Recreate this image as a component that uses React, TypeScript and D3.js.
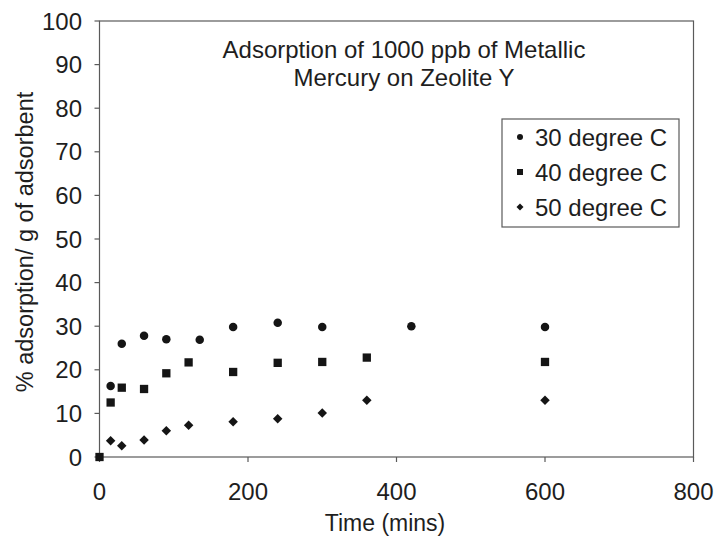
import React from "react";
import * as d3 from "d3";

const xTicks = [0, 200, 400, 600, 800];
const yTicks = [0, 10, 20, 30, 40, 50, 60, 70, 80, 90, 100];

const series30Times = [15, 30, 60, 90, 135, 180, 240, 300, 420, 600];
const series30Values = [16.3, 26.0, 27.8, 27.0, 26.9, 29.8, 30.8, 29.8, 30.0, 29.8];

const series40Times = [0, 15, 30, 60, 90, 120, 180, 240, 300, 360, 600];
const series40Values = [0, 12.5, 15.9, 15.6, 19.2, 21.7, 19.5, 21.6, 21.8, 22.8, 21.8];

const series50Times = [15, 30, 60, 90, 120, 180, 240, 300, 360, 600];
const series50Values = [3.7, 2.6, 3.9, 6.0, 7.3, 8.1, 8.8, 10.1, 13.0, 13.0];

const seriesNames = ["30 degree C", "40 degree C", "50 degree C"];
const titleLines = ["Adsorption of 1000 ppb of Metallic", "Mercury on Zeolite Y"];

const W = 714;
const H = 540;
const font = "'Liberation Sans', Arial, Helvetica, sans-serif";
const textColor = "#1e1e1e";
const axisColor = "#5a5a5a";
const markColor = "#151515";

type Shape = "circle" | "square" | "diamond";

function Marker({ x, y, shape, size }: { x: number; y: number; shape: Shape; size: number }) {
  if (shape === "circle") {
    const p = d3.symbol().type(d3.symbolCircle).size(Math.PI * (size / 2) ** 2)();
    return <path d={p || ""} transform={`translate(${x},${y})`} fill={markColor} />;
  }
  if (shape === "square") {
    const p = d3.symbol().type(d3.symbolSquare).size(size * size)();
    return <path d={p || ""} transform={`translate(${x},${y})`} fill={markColor} />;
  }
  const s = size / Math.SQRT2;
  const p = d3.symbol().type(d3.symbolSquare).size(s * s)();
  return <path d={p || ""} transform={`translate(${x},${y}) rotate(45)`} fill={markColor} />;
}

export default function App() {
  const x = d3.scaleLinear().domain([0, 800]).range([99.5, 693.5]);
  const y = d3.scaleLinear().domain([0, 100]).range([457, 21]);

  const series = [
    { name: seriesNames[0], times: series30Times, values: series30Values, shape: "circle" as Shape, size: 8.5 },
    { name: seriesNames[1], times: series40Times, values: series40Values, shape: "square" as Shape, size: 8.3 },
    { name: seriesNames[2], times: series50Times, values: series50Values, shape: "diamond" as Shape, size: 9.5 },
  ];

  const [x0, x1] = x.range();
  const [yb, yt] = y.range();

  const legend = { x: 502, y: 119, w: 177, h: 108 };

  return (
    <svg
      width={W}
      height={H}
      viewBox={`0 0 ${W} ${H}`}
      style={{ position: "absolute", left: 0, top: 0, background: "#fff" }}
      fontFamily={font}
    >
      <rect x={0} y={0} width={W} height={H} fill="#fff" />
      {/* plot frame */}
      <rect x={x0} y={yt} width={x1 - x0} height={yb - yt} fill="none" stroke={axisColor} strokeWidth={1.2} />

      {/* y ticks */}
      {yTicks.map((t) => (
        <g key={`yt${t}`}>
          <line x1={x0 - 5} x2={x0} y1={y(t)} y2={y(t)} stroke={axisColor} strokeWidth={1.2} />
          <text x={82} y={y(t)} dy="0.36em" textAnchor="end" fontSize={24} fill={textColor}>
            {t}
          </text>
        </g>
      ))}

      {/* x ticks */}
      {xTicks.map((t) => (
        <g key={`xt${t}`}>
          <line x1={x(t)} x2={x(t)} y1={yb} y2={yb + 5} stroke={axisColor} strokeWidth={1.2} />
          <text x={x(t)} y={500} textAnchor="middle" fontSize={24} fill={textColor}>
            {t}
          </text>
        </g>
      ))}

      {/* axis titles */}
      <text x={385} y={531} textAnchor="middle" fontSize={23} fill={textColor}>
        Time (mins)
      </text>
      <text
        transform={`translate(33,242) rotate(-90)`}
        textAnchor="middle"
        fontSize={23.5}
        fill={textColor}
      >
        % adsorption/ g of adsorbent
      </text>

      {/* chart title */}
      {titleLines.map((line, i) => (
        <text key={line} x={404} y={58 + i * 28} textAnchor="middle" fontSize={24} fill={textColor}>
          {line}
        </text>
      ))}

      {/* data points */}
      {series.map((s) => (
        <g key={s.name}>
          {s.times.map((t, i) => (
            <Marker key={i} x={x(t)} y={y(s.values[i])} shape={s.shape} size={s.size} />
          ))}
        </g>
      ))}

      {/* legend */}
      <rect x={legend.x} y={legend.y} width={legend.w} height={legend.h} fill="#fff" stroke={axisColor} strokeWidth={1.2} />
      {series.map((s, i) => {
        const cy = 137 + i * 35;
        return (
          <g key={`lg${s.name}`}>
            <Marker x={520} y={cy} shape={s.shape} size={s.shape === "diamond" ? 7 : 6} />
            <text x={535} y={cy} dy="0.36em" fontSize={24} fill={textColor}>
              {s.name}
            </text>
          </g>
        );
      })}
    </svg>
  );
}
